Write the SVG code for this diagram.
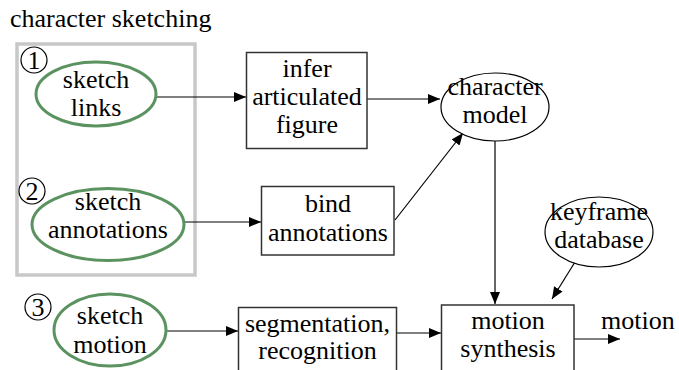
<svg xmlns="http://www.w3.org/2000/svg" width="679" height="370" viewBox="0 0 679 370" font-family="'Liberation Serif', 'DejaVu Serif', serif" font-size="26">
<defs>
<marker id="ah" markerWidth="12" markerHeight="10" refX="12" refY="5" orient="auto" markerUnits="userSpaceOnUse">
<path d="M0,0 L12,5 L0,10 Z" fill="#000"/>
</marker>
</defs>
<style>
.t{font-family:'Liberation Serif','DejaVu Serif',serif;font-size:26px;fill:#000}
.c{text-anchor:middle}
.green{fill:#fff;stroke:#5b9360;stroke-width:3}
.box{fill:#fff;stroke:#333;stroke-width:1.5}
.ell{fill:#fff;stroke:#000;stroke-width:1.2}
.num{fill:#fff;stroke:#000;stroke-width:1.2}
.edge{fill:none;stroke:#000;stroke-width:1.2;marker-end:url(#ah)}
</style>
<rect width="679" height="370" fill="#fff"/>
<text class="t" x="10" y="27">character sketching</text>
<rect id="group" x="17" y="44" width="178" height="231" fill="none" stroke="#c8c8c8" stroke-width="3.5"/>
<g id="connectors">
<line class="edge" x1="157" y1="97" x2="246" y2="97"/>
<line class="edge" x1="367" y1="99" x2="440" y2="99"/>
<line class="edge" x1="185" y1="222" x2="261" y2="222"/>
<line class="edge" x1="395" y1="220" x2="463" y2="133"/>
<line class="edge" x1="495" y1="141" x2="495" y2="304"/>
<line class="edge" x1="575" y1="262" x2="552" y2="299"/>
<line class="edge" x1="167" y1="331" x2="238" y2="331"/>
<line class="edge" x1="397" y1="333" x2="441" y2="333"/>
<line class="edge" x1="574" y1="339" x2="620" y2="339"/>
</g>
<g id="n1">
<circle class="num" cx="34" cy="60" r="13"/>
<text class="t c" x="34" y="69">1</text>
</g>
<g id="sketch-links">
<ellipse class="green" cx="96" cy="94" rx="60" ry="32"/>
<text class="t c" x="96" y="88">sketch</text>
<text class="t c" x="96" y="116">links</text>
</g>
<g id="n2">
<circle class="num" cx="32" cy="191" r="13"/>
<text class="t c" x="32" y="200">2</text>
</g>
<g id="sketch-annotations">
<ellipse class="green" cx="108" cy="224.5" rx="76" ry="36"/>
<text class="t c" x="108" y="210">sketch</text>
<text class="t c" x="108" y="238">annotations</text>
</g>
<g id="n3">
<circle class="num" cx="38" cy="307" r="13"/>
<text class="t c" x="38" y="316">3</text>
</g>
<g id="sketch-motion">
<ellipse class="green" cx="110" cy="330" rx="56" ry="36"/>
<text class="t c" x="110" y="324">sketch</text>
<text class="t c" x="110" y="353">motion</text>
</g>
<g id="infer">
<rect class="box" x="246.5" y="52.5" width="120.5" height="96"/>
<text class="t c" x="307" y="77">infer</text>
<text class="t c" x="307" y="105">articulated</text>
<text class="t c" x="307" y="133">figure</text>
</g>
<g id="bind">
<rect class="box" x="261.5" y="186.5" width="132.5" height="68.5"/>
<text class="t c" x="328" y="212">bind</text>
<text class="t c" x="328" y="241">annotations</text>
</g>
<g id="character-model">
<ellipse class="ell" cx="495" cy="107" rx="54" ry="34"/>
<text class="t c" x="495" y="95">character</text>
<text class="t c" x="495" y="123">model</text>
</g>
<g id="keyframe">
<ellipse class="ell" cx="599" cy="232" rx="54" ry="35"/>
<text class="t c" x="599" y="220">keyframe</text>
<text class="t c" x="599" y="248">database</text>
</g>
<g id="segmentation">
<rect class="box" x="238.5" y="307.5" width="158" height="70"/>
<text class="t c" x="317.5" y="332">segmentation,</text>
<text class="t c" x="317.5" y="359">recognition</text>
</g>
<g id="synthesis">
<rect class="box" x="441.5" y="305" width="132.5" height="72"/>
<text class="t c" x="508" y="329">motion</text>
<text class="t c" x="508" y="357">synthesis</text>
</g>
<g id="output">
<text class="t" x="601" y="329">motion</text>
</g>
</svg>
